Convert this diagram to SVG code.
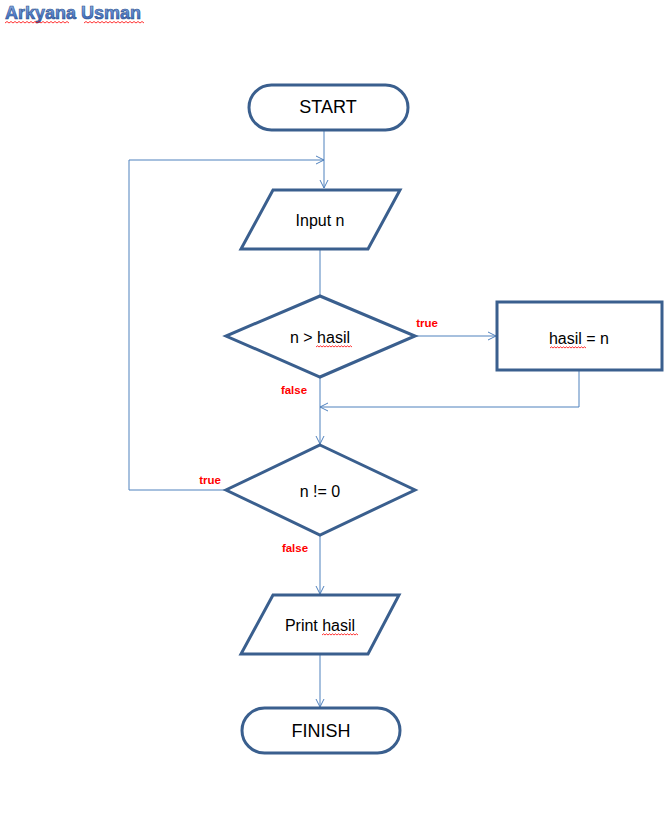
<svg xmlns="http://www.w3.org/2000/svg" width="672" height="840" viewBox="0 0 672 840">
<defs>
<linearGradient id="tg" x1="0" y1="0" x2="0" y2="1">
<stop offset="0" stop-color="#9DB9E8"/>
<stop offset="0.5" stop-color="#5B86CF"/>
<stop offset="1" stop-color="#2F5BAA"/>
</linearGradient>
<marker id="arr" markerWidth="10" markerHeight="10" refX="9" refY="5" orient="auto" markerUnits="userSpaceOnUse">
<path d="M1,1 L9,5 L1,9" fill="none" stroke="#4F81BD" stroke-width="1"/>
</marker>
</defs>
<style>
.node{fill:#FFFFFF;stroke:#3A5F8E;stroke-width:3;stroke-linejoin:miter}
.conn{fill:none;stroke:#4F81BD;stroke-width:1}
.t{font-family:"Liberation Sans",Arial,sans-serif;font-size:16px;fill:#000000;text-anchor:middle;dominant-baseline:central}
.big{font-size:18px}
.lbl{font-family:"Liberation Sans",Arial,sans-serif;font-size:11.5px;font-weight:bold;fill:#FF0000;text-anchor:middle}
.sq{fill:none;stroke:#FF0000;stroke-width:0.8}
</style>
<rect width="672" height="840" fill="#FFFFFF"/>
<g id="title">
<text x="5" y="19" font-family="'Liberation Sans',Arial,sans-serif" font-size="18" font-weight="bold" fill="url(#tg)" stroke="#2C4F8C" stroke-width="0.6">Arkyana Usman</text>
<path class="sq" d="M5,23 l2,-1.5 l2,1.5 l2,-1.5 l2,1.5 l2,-1.5 l2,1.5 l2,-1.5 l2,1.5 l2,-1.5 l2,1.5 l2,-1.5 l2,1.5 l2,-1.5 l2,1.5 l2,-1.5 l2,1.5 l2,-1.5 l2,1.5 l2,-1.5 l2,1.5 l2,-1.5 l2,1.5 l2,-1.5 l2,1.5 l2,-1.5 l2,1.5 l2,-1.5 l2,1.5 l2,-1.5 l2,1.5 l2,-1.5 l2,1.5"/>
<path class="sq" d="M84,23 l2,-1.5 l2,1.5 l2,-1.5 l2,1.5 l2,-1.5 l2,1.5 l2,-1.5 l2,1.5 l2,-1.5 l2,1.5 l2,-1.5 l2,1.5 l2,-1.5 l2,1.5 l2,-1.5 l2,1.5 l2,-1.5 l2,1.5 l2,-1.5 l2,1.5 l2,-1.5 l2,1.5 l2,-1.5 l2,1.5 l2,-1.5 l2,1.5 l2,-1.5 l2,1.5 l2,-1.5 l2,1.5"/>
</g>
<g id="connectors">
<line class="conn" x1="324" y1="131" x2="324" y2="188" marker-end="url(#arr)"/>
<polyline class="conn" points="226,490 129,490 129,160 324,160" marker-end="url(#arr)"/>
<line class="conn" x1="320" y1="250" x2="320" y2="295"/>
<line class="conn" x1="415" y1="336" x2="496" y2="336" marker-end="url(#arr)"/>
<polyline class="conn" points="579,371 579,407 320,407" marker-end="url(#arr)"/>
<line class="conn" x1="320" y1="378" x2="320" y2="444" marker-end="url(#arr)"/>
<line class="conn" x1="320" y1="536" x2="320" y2="594" marker-end="url(#arr)"/>
<line class="conn" x1="320" y1="655" x2="320" y2="707" marker-end="url(#arr)"/>
<text class="lbl" x="427" y="327">true</text>
<text class="lbl" x="294" y="394">false</text>
<text class="lbl" x="210" y="484">true</text>
<text class="lbl" x="295" y="552">false</text>
</g>
<g id="start">
<rect class="node" x="249" y="85" width="159" height="45" rx="22.5" ry="22.5"/>
<text class="t big" x="328" y="107">START</text>
</g>
<g id="input">
<polygon class="node" points="273,190 400,190 368,249 241,249"/>
<text class="t" x="320" y="220">Input n</text>
</g>
<g id="decision1">
<polygon class="node" points="320,296 415,336 320,377 226,336"/>
<text class="t" x="320" y="337">n &gt; hasil</text>
<path class="sq" d="M316,347 l1.5,-1.2 l1.5,1.2 l1.5,-1.2 l1.5,1.2 l1.5,-1.2 l1.5,1.2 l1.5,-1.2 l1.5,1.2 l1.5,-1.2 l1.5,1.2 l1.5,-1.2 l1.5,1.2 l1.5,-1.2 l1.5,1.2 l1.5,-1.2 l1.5,1.2 l1.5,-1.2 l1.5,1.2 l1.5,-1.2 l1.5,1.2 l1.5,-1.2 l1.5,1.2 l1.5,-1.2 l1.5,1.2"/>
</g>
<g id="assign">
<rect class="node" x="497" y="302" width="165" height="68"/>
<text class="t" x="579" y="338">hasil = n</text>
<path class="sq" d="M550,348 l1.5,-1.2 l1.5,1.2 l1.5,-1.2 l1.5,1.2 l1.5,-1.2 l1.5,1.2 l1.5,-1.2 l1.5,1.2 l1.5,-1.2 l1.5,1.2 l1.5,-1.2 l1.5,1.2 l1.5,-1.2 l1.5,1.2 l1.5,-1.2 l1.5,1.2 l1.5,-1.2 l1.5,1.2 l1.5,-1.2 l1.5,1.2 l1.5,-1.2 l1.5,1.2 l1.5,-1.2 l1.5,1.2"/>
</g>
<g id="decision2">
<polygon class="node" points="320,445 415,490 320,535 226,490"/>
<text class="t" x="320" y="491">n != 0</text>
</g>
<g id="print">
<polygon class="node" points="273,595 399,595 368,654 241,654"/>
<text class="t" x="320" y="625">Print hasil</text>
<path class="sq" d="M322,635 l1.5,-1.2 l1.5,1.2 l1.5,-1.2 l1.5,1.2 l1.5,-1.2 l1.5,1.2 l1.5,-1.2 l1.5,1.2 l1.5,-1.2 l1.5,1.2 l1.5,-1.2 l1.5,1.2 l1.5,-1.2 l1.5,1.2 l1.5,-1.2 l1.5,1.2 l1.5,-1.2 l1.5,1.2 l1.5,-1.2 l1.5,1.2 l1.5,-1.2 l1.5,1.2 l1.5,-1.2 l1.5,1.2"/>
</g>
<g id="finish">
<rect class="node" x="242" y="708" width="158" height="45" rx="22.5" ry="22.5"/>
<text class="t big" x="321" y="731">FINISH</text>
</g>
</svg>
